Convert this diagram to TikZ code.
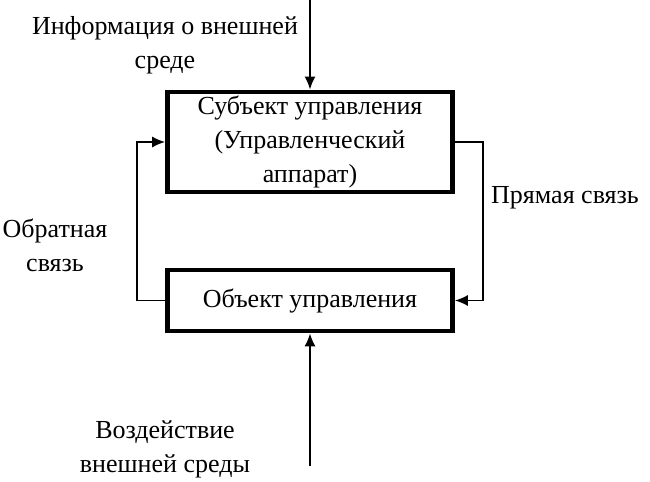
\documentclass[tikz,border=0pt]{standalone}
\usepackage{fontspec}
\setmainfont{Liberation Serif}
\usetikzlibrary{arrows.meta, positioning}
\tikzset{
    block/.style={rectangle, draw, line width=2.3pt, minimum width=142.5pt, minimum height=46pt, align=center, inner sep=2pt},
    label text/.style={align=center, inner sep=0pt},
    link/.style={line width=0.9pt, -{Latex[length=6.5pt, width=5.5pt]}}
}

\begin{document}
\begin{tikzpicture}[x=0.5pt, y=-0.5pt, font=\fontsize{13}{17}\selectfont]
    \useasboundingbox (0,0) rectangle (650,482);

    % Blocks
    \node[block] (subj) at (310,142) {Субъект управления\\(Управленческий\\аппарат)};
    \node[block, minimum height=30.5pt] (obj) at (310,300.5) {Объект управления};

    % Labels
    \node[label text] (info) at (165,45) {Информация о внешней\\среде};
    \node[label text] (direct) at (565,198) {Прямая связь};
    \node[label text] (feedback) at (55,245) {Обратная\\связь};
    \node[label text] (env) at (165,449) {Воздействие\\внешней среды};

    % Free ends
    \coordinate (in top) at (310,0);
    \coordinate (in bottom) at (310,466);

    % Links
    \draw[link] (in top) -- (subj.north);
    \draw[link] (in bottom) -- (obj.south);
    \draw[link] (subj.east) -- ++(28,0) |- (obj.east);
    \draw[link] (obj.west) -- ++(-28,0) |- (subj.west);
\end{tikzpicture}
\end{document}
